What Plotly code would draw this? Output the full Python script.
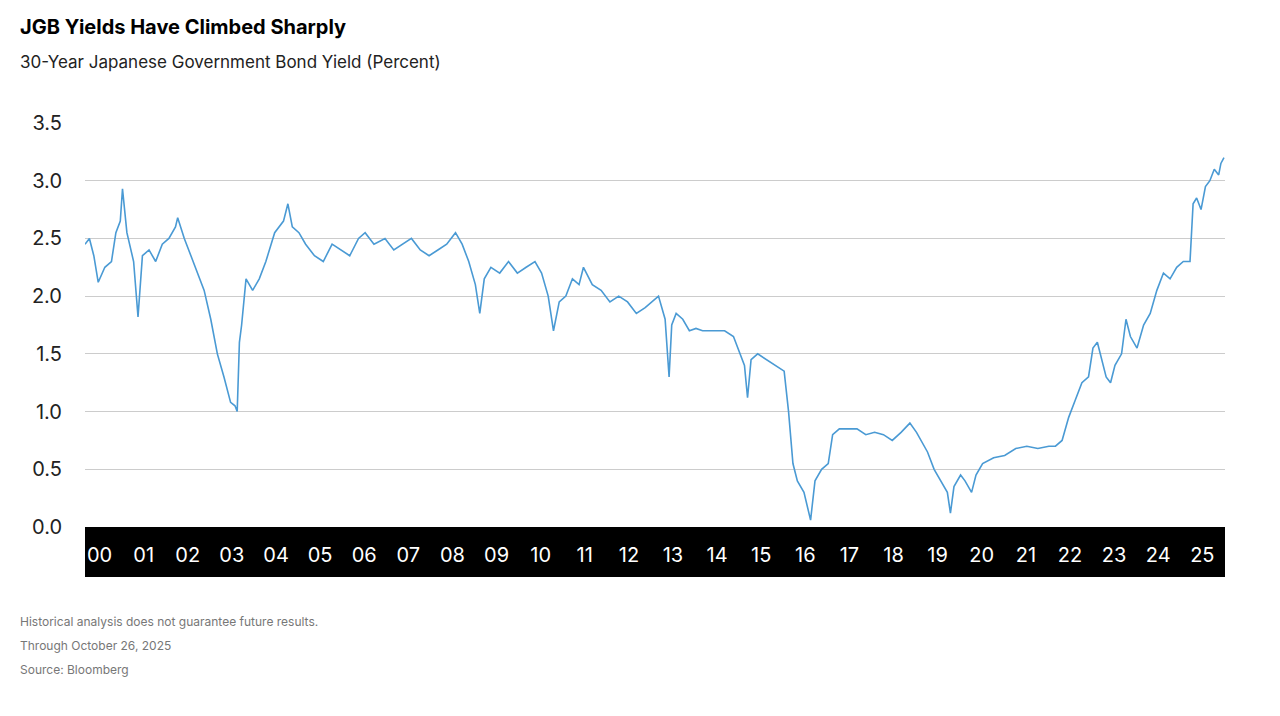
import plotly.graph_objects as go
import pandas as pd

# Approximate readings: time (fractional year) and 30Y JGB yield (%)
years = [2000.0,2000.1,2000.2,2000.3,2000.45,2000.6,2000.7,2000.8,2000.85,2000.95,2001.1,2001.2,2001.3,2001.45,2001.6,2001.75,2001.9,2002.05,2002.1,2002.25,2002.4,2002.55,2002.7,2002.85,2003.0,2003.15,2003.3,2003.4,2003.45,2003.5,2003.55,2003.65,2003.8,2003.95,2004.1,2004.3,2004.5,2004.6,2004.7,2004.85,2005.0,2005.2,2005.4,2005.6,2005.8,2006.0,2006.2,2006.35,2006.55,2006.8,2007.0,2007.2,2007.4,2007.6,2007.8,2008.0,2008.2,2008.4,2008.55,2008.7,2008.85,2008.95,2009.05,2009.2,2009.4,2009.6,2009.8,2010.0,2010.2,2010.35,2010.5,2010.62,2010.75,2010.9,2011.05,2011.2,2011.3,2011.5,2011.7,2011.9,2012.1,2012.3,2012.5,2012.7,2012.85,2013.0,2013.15,2013.24,2013.3,2013.4,2013.55,2013.7,2013.85,2014.0,2014.25,2014.5,2014.7,2014.85,2014.95,2015.02,2015.1,2015.25,2015.45,2015.65,2015.85,2015.95,2016.05,2016.15,2016.3,2016.45,2016.55,2016.7,2016.85,2016.95,2017.1,2017.3,2017.5,2017.7,2017.9,2018.1,2018.3,2018.5,2018.7,2018.85,2018.95,2019.1,2019.25,2019.4,2019.55,2019.62,2019.7,2019.85,2019.95,2020.1,2020.2,2020.35,2020.6,2020.85,2021.1,2021.35,2021.6,2021.85,2022.0,2022.15,2022.3,2022.45,2022.6,2022.75,2022.85,2022.95,2023.05,2023.15,2023.25,2023.35,2023.5,2023.6,2023.7,2023.85,2024.0,2024.15,2024.3,2024.45,2024.6,2024.75,2024.9,2025.05,2025.12,2025.2,2025.3,2025.4,2025.5,2025.6,2025.7,2025.75,2025.82]
yields = [2.45,2.5,2.35,2.12,2.25,2.3,2.55,2.65,2.93,2.55,2.3,1.82,2.35,2.4,2.3,2.45,2.5,2.6,2.68,2.5,2.35,2.2,2.05,1.8,1.5,1.3,1.08,1.05,1.0,1.6,1.75,2.15,2.05,2.15,2.3,2.55,2.65,2.8,2.6,2.55,2.45,2.35,2.3,2.45,2.4,2.35,2.5,2.55,2.45,2.5,2.4,2.45,2.5,2.4,2.35,2.4,2.45,2.55,2.45,2.3,2.1,1.85,2.15,2.25,2.2,2.3,2.2,2.25,2.3,2.2,2.0,1.7,1.95,2.0,2.15,2.1,2.25,2.1,2.05,1.95,2.0,1.95,1.85,1.9,1.95,2.0,1.8,1.3,1.75,1.85,1.8,1.7,1.72,1.7,1.7,1.7,1.65,1.5,1.4,1.12,1.45,1.5,1.45,1.4,1.35,1.0,0.55,0.4,0.3,0.06,0.4,0.5,0.55,0.8,0.85,0.85,0.85,0.8,0.82,0.8,0.75,0.82,0.9,0.82,0.75,0.65,0.5,0.4,0.3,0.12,0.35,0.45,0.4,0.3,0.45,0.55,0.6,0.62,0.68,0.7,0.68,0.7,0.7,0.75,0.95,1.1,1.25,1.3,1.55,1.6,1.45,1.3,1.25,1.4,1.5,1.8,1.65,1.55,1.75,1.85,2.05,2.2,2.15,2.25,2.3,2.3,2.8,2.85,2.75,2.95,3.0,3.1,3.05,3.15,3.2,3.1]

def to_date(y):
    yr = int(y)
    return pd.Timestamp(yr, 1, 1) + pd.Timedelta(days=(y - yr) * 365.25)

dates = [to_date(y) for y in years]
tick_years = list(range(2000, 2026))
tick_labels = [f"{y % 100:02d}" for y in tick_years]
tick_pos = [pd.Timestamp(y, 5, 1) for y in tick_years]

W, H = 1272, 708
L, R, T, B = 77, 55, 115, 189

fig = go.Figure(go.Scatter(x=dates, y=yields, mode="lines",
                           line=dict(color="#4A9AD4", width=1.6), hoverinfo="skip"))

fig.update_layout(
    width=W, height=H, plot_bgcolor="white", paper_bgcolor="white",
    margin=dict(l=L, r=R, t=T, b=B), showlegend=False,
    font=dict(family="Inter, Roboto, sans-serif"),
    xaxis=dict(range=[pd.Timestamp(2000, 1, 1), pd.Timestamp(2025, 11, 5)],
               tickvals=tick_pos, ticktext=tick_labels, showgrid=False,
               zeroline=False, showline=False, ticks="",
               tickfont=dict(color="white", size=20), ticklabelstandoff=14),
    yaxis=dict(range=[0, 3.5], dtick=0.5, tickformat=".1f", showgrid=True,
               gridcolor="#cccccc", gridwidth=1, zeroline=False, ticks="",
               tickfont=dict(color="#222", size=20), ticklabelstandoff=22),
    shapes=[dict(type="rect", xref="paper", yref="paper", x0=0, x1=1,
                 y0=-50/404, y1=0, fillcolor="black", line_width=0, layer="below")],
)

pw, ph = W - L - R, H - T - B
def ann(text, px, py, size, color):
    # px, py are page pixel positions (page has an 8px offset)
    fig.add_annotation(text=text, xref="paper", yref="paper",
                       x=(px - 8 - L) / pw, y=(H - (py - 8) - B) / ph,
                       xanchor="left", yanchor="middle", showarrow=False,
                       font=dict(size=size, color=color))

ann("<b>JGB Yields Have Climbed Sharply</b>", 18, 27, 20, "black")
ann("30-Year Japanese Government Bond Yield (Percent)", 18, 62, 17, "#222")
ann("Historical analysis does not guarantee future results.", 18, 621, 12, "#777")
ann("Through October 26, 2025", 18, 645, 12, "#777")
ann("Source: Bloomberg", 18, 669, 12, "#777")

fig.write_html("out.html")
